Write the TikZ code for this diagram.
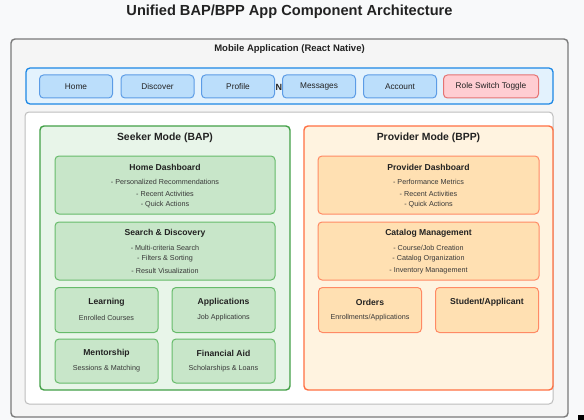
\documentclass[tikz,border=0pt]{standalone}
\usepackage{fontspec}
\setmainfont{Liberation Sans}
\definecolor{bgc}{HTML}{F8F9FA}
\definecolor{outfill}{HTML}{F5F5F5}
\definecolor{outdraw}{HTML}{7A7A7A}
\definecolor{navfill}{HTML}{E3F2FD}
\definecolor{navdraw}{HTML}{1E88E5}
\definecolor{btnfill}{HTML}{BBDEFB}
\definecolor{btndraw}{HTML}{5C9CE6}
\definecolor{rolefill}{HTML}{FFCDD2}
\definecolor{roledraw}{HTML}{E57373}
\definecolor{whdraw}{HTML}{BDBDBD}
\definecolor{skfill}{HTML}{E8F5E9}
\definecolor{skdraw}{HTML}{43A047}
\definecolor{gbfill}{HTML}{C8E6C9}
\definecolor{gbdraw}{HTML}{66BB6A}
\definecolor{prfill}{HTML}{FFF3E0}
\definecolor{prdraw}{HTML}{FF7043}
\definecolor{obfill}{HTML}{FFE0B2}
\definecolor{obdraw}{HTML}{FF8A65}
\definecolor{txt}{HTML}{222222}
\tikzset{
  panel/.style={draw, rounded corners=4pt, inner sep=0pt, outer sep=0pt},
  btn/.style={panel, draw=btndraw, fill=btnfill, line width=1pt, minimum width=73pt, minimum height=23pt, font=\fontsize{8.3}{9}\selectfont, text=txt},
  gbox/.style={panel, draw=gbdraw, fill=gbfill, line width=1pt},
  obox/.style={panel, draw=obdraw, fill=obfill, line width=1pt},
  ttl/.style={font=\bfseries\fontsize{8.6}{10}\selectfont, text=txt, inner sep=0pt},
  itm/.style={font=\fontsize{7.2}{8}\selectfont, text=txt!90!white, inner sep=0pt},
  head/.style={font=\bfseries\fontsize{10.4}{12}\selectfont, text=txt, inner sep=0pt},
}
\begin{document}
\begin{tikzpicture}[x=1pt, y=-1pt]
\useasboundingbox[fill=bgc] (0,0) rectangle (584,420);
\node[font=\bfseries\fontsize{14.6}{16}\selectfont, text=txt, inner sep=0pt] (title) at (289.5,12) {Unified BAP/BPP App Component Architecture};
% outer mobile box
\node[panel, draw=outdraw, fill=outfill, line width=1.4pt, minimum width=557pt, minimum height=378pt] (mobile) at (289.5,228) {};
\node[font=\bfseries\fontsize{9.5}{11}\selectfont, text=txt, inner sep=0pt] (mobilelbl) at (289.5,49) {Mobile Application (React Native)};
% nav bar
\node[panel, draw=navdraw, fill=navfill, line width=1.3pt, minimum width=527pt, minimum height=36pt] (nav) at (289.5,86) {};
\begin{scope}
\clip (275,70) rectangle (282,102);
\node[font=\bfseries\fontsize{9}{11}\selectfont, text=txt, inner sep=0pt, anchor=west] (navlbl) at (275.5,87) {N};
\end{scope}
\node[btn] (home) at (76,86.5) {Home};
\node[btn] (discover) at (157.5,86.5) {Discover};
\node[btn] (profile) at (238,86.5) {Profile};
\node[btn] (messages) at (319,86.5) {Messages};
\node[btn] (account) at (400,86.5) {Account};
\node[btn, draw=roledraw, fill=rolefill, minimum width=95pt] (role) at (491,86.5) {Role Switch Toggle};
% inner white area
\node[panel, draw=whdraw, fill=white, line width=1pt, minimum width=528pt, minimum height=292pt] (content) at (289,258) {};
% seeker
\node[panel, draw=skdraw, fill=skfill, line width=1.4pt, minimum width=250pt, minimum height=264pt] (seeker) at (165,258) {};
\node[head] (seekerlbl) at (165,138) {Seeker Mode (BAP)};
\node[gbox, minimum width=220pt, minimum height=58pt] (homedash) at (165,185) {};
\node[ttl] (homedasht) at (165,167) {Home Dashboard};
\node[itm] (hd1) at (165,182) {- Personalized Recommendations};
\node[itm] (hd2) at (165,193.5) {- Recent Activities};
\node[itm] (hd3) at (165,204.5) {- Quick Actions};
\node[gbox, minimum width=220pt, minimum height=58pt] (search) at (165,251) {};
\node[ttl] (searcht) at (165,233.5) {Search \& Discovery};
\node[itm] (sd1) at (165,248) {- Multi-criteria Search};
\node[itm] (sd2) at (165,259) {- Filters \& Sorting};
\node[itm] (sd3) at (165,270.5) {- Result Visualization};
\node[gbox, minimum width=103pt, minimum height=45pt] (learning) at (106.5,310) {};
\node[ttl] (learningt) at (106.5,302) {Learning};
\node[itm] (learnings) at (106.5,318) {Enrolled Courses};
\node[gbox, minimum width=103pt, minimum height=45pt] (apps) at (223.5,310) {};
\node[ttl] (appst) at (223.5,302) {Applications};
\node[itm] (appss) at (223.5,318) {Job Applications};
\node[gbox, minimum width=103pt, minimum height=44pt] (mentor) at (106.5,361) {};
\node[ttl] (mentort) at (106.5,353.5) {Mentorship};
\node[itm] (mentors) at (106.5,369) {Sessions \& Matching};
\node[gbox, minimum width=103pt, minimum height=44pt] (finaid) at (223.5,361) {};
\node[ttl] (finaidt) at (223.5,353.5) {Financial Aid};
\node[itm] (finaids) at (223.5,369) {Scholarships \& Loans};
% provider
\node[panel, draw=prdraw, fill=prfill, line width=1.4pt, minimum width=249pt, minimum height=264pt] (provider) at (428.5,258) {};
\node[head] (providerlbl) at (428.5,138) {Provider Mode (BPP)};
\node[obox, minimum width=221pt, minimum height=58pt] (provdash) at (428.5,185) {};
\node[ttl] (provdasht) at (428.5,167) {Provider Dashboard};
\node[itm] (pd1) at (428.5,182) {- Performance Metrics};
\node[itm] (pd2) at (428.5,193.5) {- Recent Activities};
\node[itm] (pd3) at (428.5,204.5) {- Quick Actions};
\node[obox, minimum width=221pt, minimum height=58pt] (catalog) at (428.5,251) {};
\node[ttl] (catalogt) at (428.5,233.5) {Catalog Management};
\node[itm] (cm1) at (428.5,248) {- Course/Job Creation};
\node[itm] (cm2) at (428.5,259) {- Catalog Organization};
\node[itm] (cm3) at (428.5,270.5) {- Inventory Management};
\node[obox, minimum width=103pt, minimum height=45pt] (orders) at (370,310) {};
\node[ttl] (orderst) at (370,302) {Orders};
\node[itm] (orderss) at (370,318) {Enrollments/Applications};
\node[obox, minimum width=103pt, minimum height=45pt] (student) at (487,310) {};
\node[ttl] (studentt) at (487,302) {Student/Applicant};
% stray mark
\fill[black] (578,415) rectangle (584,420);
\end{tikzpicture}
\end{document}
